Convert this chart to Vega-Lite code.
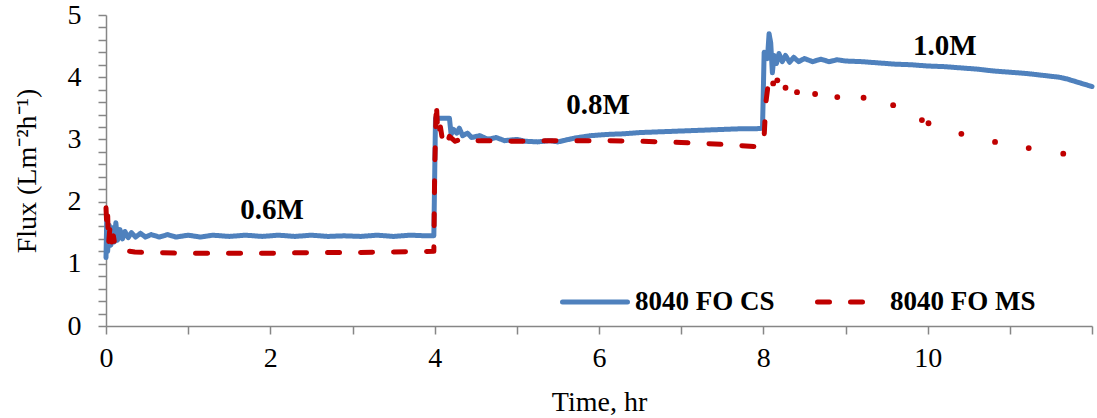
{
  "$schema": "https://vega.github.io/schema/vega-lite/v6.json",
  "width": 986,
  "height": 311,
  "autosize": {"type": "none"},
  "padding": {"left": 106, "top": 15, "right": 5, "bottom": 92},
  "background": "white",
  "config": {
    "view": {"stroke": null},
    "font": "Liberation Serif",
    "axis": {
      "domainColor": "#868686", "tickColor": "#868686", "domainWidth": 1.5, "tickWidth": 1.5, "tickSize": 8,
      "labelFont": "Liberation Serif", "titleFont": "Liberation Serif", "labelFontSize": 28, "titleFontSize": 28,
      "labelColor": "black", "titleColor": "black", "titleFontWeight": "normal", "grid": false
    },
    "legend": {
      "orient": "none", "legendX": 454, "legendY": 252, "direction": "horizontal",
      "symbolType": "stroke", "symbolSize": 4225, "symbolStrokeWidth": 5,
      "labelFont": "Liberation Serif", "labelFontSize": 27, "labelFontWeight": "bold", "labelColor": "black",
      "labelOffset": 5, "columnPadding": 32, "padding": 0
    }
  },
  "datasets": {
    "flux": [
      {"series": "8040 FO CS", "t": 0.00, "flux": 1.10},
      {"series": "8040 FO CS", "t": 0.01, "flux": 1.78},
      {"series": "8040 FO CS", "t": 0.02, "flux": 1.20},
      {"series": "8040 FO CS", "t": 0.04, "flux": 1.62},
      {"series": "8040 FO CS", "t": 0.06, "flux": 1.30},
      {"series": "8040 FO CS", "t": 0.08, "flux": 1.58},
      {"series": "8040 FO CS", "t": 0.10, "flux": 1.35},
      {"series": "8040 FO CS", "t": 0.12, "flux": 1.66},
      {"series": "8040 FO CS", "t": 0.14, "flux": 1.38},
      {"series": "8040 FO CS", "t": 0.17, "flux": 1.55},
      {"series": "8040 FO CS", "t": 0.20, "flux": 1.40},
      {"series": "8040 FO CS", "t": 0.23, "flux": 1.52},
      {"series": "8040 FO CS", "t": 0.27, "flux": 1.42},
      {"series": "8040 FO CS", "t": 0.31, "flux": 1.50},
      {"series": "8040 FO CS", "t": 0.36, "flux": 1.43},
      {"series": "8040 FO CS", "t": 0.42, "flux": 1.49},
      {"series": "8040 FO CS", "t": 0.48, "flux": 1.43},
      {"series": "8040 FO CS", "t": 0.55, "flux": 1.47},
      {"series": "8040 FO CS", "t": 0.65, "flux": 1.43},
      {"series": "8040 FO CS", "t": 0.75, "flux": 1.47},
      {"series": "8040 FO CS", "t": 0.85, "flux": 1.43},
      {"series": "8040 FO CS", "t": 1.00, "flux": 1.46},
      {"series": "8040 FO CS", "t": 1.15, "flux": 1.43},
      {"series": "8040 FO CS", "t": 1.30, "flux": 1.46},
      {"series": "8040 FO CS", "t": 1.50, "flux": 1.44},
      {"series": "8040 FO CS", "t": 1.70, "flux": 1.46},
      {"series": "8040 FO CS", "t": 1.90, "flux": 1.44},
      {"series": "8040 FO CS", "t": 2.10, "flux": 1.46},
      {"series": "8040 FO CS", "t": 2.30, "flux": 1.44},
      {"series": "8040 FO CS", "t": 2.50, "flux": 1.46},
      {"series": "8040 FO CS", "t": 2.70, "flux": 1.44},
      {"series": "8040 FO CS", "t": 2.90, "flux": 1.45},
      {"series": "8040 FO CS", "t": 3.10, "flux": 1.44},
      {"series": "8040 FO CS", "t": 3.30, "flux": 1.46},
      {"series": "8040 FO CS", "t": 3.50, "flux": 1.44},
      {"series": "8040 FO CS", "t": 3.70, "flux": 1.46},
      {"series": "8040 FO CS", "t": 3.90, "flux": 1.45},
      {"series": "8040 FO CS", "t": 3.99, "flux": 1.45},
      {"series": "8040 FO CS", "t": 4.00, "flux": 2.40},
      {"series": "8040 FO CS", "t": 4.01, "flux": 3.34},
      {"series": "8040 FO CS", "t": 4.18, "flux": 3.34},
      {"series": "8040 FO CS", "t": 4.20, "flux": 3.08},
      {"series": "8040 FO CS", "t": 4.23, "flux": 3.16},
      {"series": "8040 FO CS", "t": 4.27, "flux": 3.10},
      {"series": "8040 FO CS", "t": 4.30, "flux": 3.18},
      {"series": "8040 FO CS", "t": 4.34, "flux": 3.06},
      {"series": "8040 FO CS", "t": 4.40, "flux": 3.10},
      {"series": "8040 FO CS", "t": 4.45, "flux": 3.03},
      {"series": "8040 FO CS", "t": 4.55, "flux": 3.06},
      {"series": "8040 FO CS", "t": 4.65, "flux": 3.00},
      {"series": "8040 FO CS", "t": 4.75, "flux": 3.03},
      {"series": "8040 FO CS", "t": 4.85, "flux": 2.98},
      {"series": "8040 FO CS", "t": 5.00, "flux": 3.00},
      {"series": "8040 FO CS", "t": 5.10, "flux": 2.97},
      {"series": "8040 FO CS", "t": 5.25, "flux": 2.96},
      {"series": "8040 FO CS", "t": 5.40, "flux": 2.98},
      {"series": "8040 FO CS", "t": 5.50, "flux": 2.96},
      {"series": "8040 FO CS", "t": 5.70, "flux": 3.02},
      {"series": "8040 FO CS", "t": 5.90, "flux": 3.06},
      {"series": "8040 FO CS", "t": 6.10, "flux": 3.08},
      {"series": "8040 FO CS", "t": 6.30, "flux": 3.09},
      {"series": "8040 FO CS", "t": 6.50, "flux": 3.11},
      {"series": "8040 FO CS", "t": 6.70, "flux": 3.12},
      {"series": "8040 FO CS", "t": 6.90, "flux": 3.13},
      {"series": "8040 FO CS", "t": 7.10, "flux": 3.14},
      {"series": "8040 FO CS", "t": 7.30, "flux": 3.15},
      {"series": "8040 FO CS", "t": 7.50, "flux": 3.16},
      {"series": "8040 FO CS", "t": 7.70, "flux": 3.17},
      {"series": "8040 FO CS", "t": 7.90, "flux": 3.17},
      {"series": "8040 FO CS", "t": 7.99, "flux": 3.18},
      {"series": "8040 FO CS", "t": 8.01, "flux": 4.40},
      {"series": "8040 FO CS", "t": 8.05, "flux": 4.30},
      {"series": "8040 FO CS", "t": 8.07, "flux": 4.70},
      {"series": "8040 FO CS", "t": 8.09, "flux": 4.55},
      {"series": "8040 FO CS", "t": 8.11, "flux": 4.07},
      {"series": "8040 FO CS", "t": 8.13, "flux": 4.35},
      {"series": "8040 FO CS", "t": 8.16, "flux": 4.22},
      {"series": "8040 FO CS", "t": 8.19, "flux": 4.38},
      {"series": "8040 FO CS", "t": 8.23, "flux": 4.25},
      {"series": "8040 FO CS", "t": 8.27, "flux": 4.35},
      {"series": "8040 FO CS", "t": 8.32, "flux": 4.24},
      {"series": "8040 FO CS", "t": 8.37, "flux": 4.32},
      {"series": "8040 FO CS", "t": 8.43, "flux": 4.25},
      {"series": "8040 FO CS", "t": 8.50, "flux": 4.30},
      {"series": "8040 FO CS", "t": 8.60, "flux": 4.25},
      {"series": "8040 FO CS", "t": 8.70, "flux": 4.29},
      {"series": "8040 FO CS", "t": 8.80, "flux": 4.25},
      {"series": "8040 FO CS", "t": 8.90, "flux": 4.28},
      {"series": "8040 FO CS", "t": 9.00, "flux": 4.26},
      {"series": "8040 FO CS", "t": 9.20, "flux": 4.25},
      {"series": "8040 FO CS", "t": 9.40, "flux": 4.23},
      {"series": "8040 FO CS", "t": 9.60, "flux": 4.21},
      {"series": "8040 FO CS", "t": 9.80, "flux": 4.20},
      {"series": "8040 FO CS", "t": 10.00, "flux": 4.18},
      {"series": "8040 FO CS", "t": 10.20, "flux": 4.17},
      {"series": "8040 FO CS", "t": 10.40, "flux": 4.15},
      {"series": "8040 FO CS", "t": 10.60, "flux": 4.13},
      {"series": "8040 FO CS", "t": 10.80, "flux": 4.10},
      {"series": "8040 FO CS", "t": 11.00, "flux": 4.08},
      {"series": "8040 FO CS", "t": 11.20, "flux": 4.06},
      {"series": "8040 FO CS", "t": 11.40, "flux": 4.03},
      {"series": "8040 FO CS", "t": 11.60, "flux": 4.00},
      {"series": "8040 FO CS", "t": 11.70, "flux": 3.97},
      {"series": "8040 FO CS", "t": 11.80, "flux": 3.93},
      {"series": "8040 FO CS", "t": 11.90, "flux": 3.89},
      {"series": "8040 FO CS", "t": 12.00, "flux": 3.85},
      {"series": "8040 FO MS", "t": 0.00, "flux": 1.90},
      {"series": "8040 FO MS", "t": 0.01, "flux": 1.60},
      {"series": "8040 FO MS", "t": 0.02, "flux": 1.80},
      {"series": "8040 FO MS", "t": 0.03, "flux": 1.30},
      {"series": "8040 FO MS", "t": 0.05, "flux": 1.62},
      {"series": "8040 FO MS", "t": 0.07, "flux": 1.35},
      {"series": "8040 FO MS", "t": 0.09, "flux": 1.45},
      {"series": "8040 FO MS", "t": 0.11, "flux": 1.28},
      {"series": "8040 FO MS", "t": 0.14, "flux": 1.25},
      {"series": "8040 FO MS", "t": 0.18, "flux": 1.22},
      {"series": "8040 FO MS", "t": 0.25, "flux": 1.21},
      {"series": "8040 FO MS", "t": 0.35, "flux": 1.19},
      {"series": "8040 FO MS", "t": 0.50, "flux": 1.18},
      {"series": "8040 FO MS", "t": 1.00, "flux": 1.17},
      {"series": "8040 FO MS", "t": 1.50, "flux": 1.17},
      {"series": "8040 FO MS", "t": 2.00, "flux": 1.17},
      {"series": "8040 FO MS", "t": 2.50, "flux": 1.18},
      {"series": "8040 FO MS", "t": 3.00, "flux": 1.18},
      {"series": "8040 FO MS", "t": 3.50, "flux": 1.19},
      {"series": "8040 FO MS", "t": 3.99, "flux": 1.20},
      {"series": "8040 FO MS", "t": 4.00, "flux": 2.50},
      {"series": "8040 FO MS", "t": 4.02, "flux": 3.60},
      {"series": "8040 FO MS", "t": 4.04, "flux": 3.05},
      {"series": "8040 FO MS", "t": 4.07, "flux": 3.20},
      {"series": "8040 FO MS", "t": 4.10, "flux": 2.95},
      {"series": "8040 FO MS", "t": 4.14, "flux": 2.88},
      {"series": "8040 FO MS", "t": 4.18, "flux": 3.05},
      {"series": "8040 FO MS", "t": 4.25, "flux": 2.97},
      {"series": "8040 FO MS", "t": 4.35, "flux": 3.02},
      {"series": "8040 FO MS", "t": 4.50, "flux": 2.98},
      {"series": "8040 FO MS", "t": 5.00, "flux": 2.97},
      {"series": "8040 FO MS", "t": 5.50, "flux": 2.98},
      {"series": "8040 FO MS", "t": 6.00, "flux": 2.98},
      {"series": "8040 FO MS", "t": 6.50, "flux": 2.97},
      {"series": "8040 FO MS", "t": 7.00, "flux": 2.95},
      {"series": "8040 FO MS", "t": 7.50, "flux": 2.92},
      {"series": "8040 FO MS", "t": 7.95, "flux": 2.88},
      {"series": "8040 FO MS", "t": 7.99, "flux": 2.90},
      {"series": "8040 FO MS", "t": 8.01, "flux": 3.05},
      {"series": "8040 FO MS", "t": 8.03, "flux": 3.58},
      {"series": "8040 FO MS", "t": 8.06, "flux": 3.90},
      {"series": "8040 FO MS", "t": 8.12, "flux": 3.90},
      {"series": "8040 FO MS", "t": 8.17, "flux": 3.95},
      {"series": "8040 FO MS", "t": 8.27, "flux": 3.83},
      {"series": "8040 FO MS", "t": 8.41, "flux": 3.76},
      {"series": "8040 FO MS", "t": 8.63, "flux": 3.73},
      {"series": "8040 FO MS", "t": 8.90, "flux": 3.68},
      {"series": "8040 FO MS", "t": 9.22, "flux": 3.67},
      {"series": "8040 FO MS", "t": 9.58, "flux": 3.55},
      {"series": "8040 FO MS", "t": 9.93, "flux": 3.31},
      {"series": "8040 FO MS", "t": 10.01, "flux": 3.26},
      {"series": "8040 FO MS", "t": 10.41, "flux": 3.09},
      {"series": "8040 FO MS", "t": 10.82, "flux": 2.96},
      {"series": "8040 FO MS", "t": 11.23, "flux": 2.86},
      {"series": "8040 FO MS", "t": 11.65, "flux": 2.77}
    ],
    "notes": [
      {"t": 2.02, "flux": 1.86, "label": "0.6M"},
      {"t": 5.99, "flux": 3.55, "label": "0.8M"},
      {"t": 10.21, "flux": 4.50, "label": "1.0M"}
    ]
  },
  "encoding": {
    "x": {
      "field": "t", "type": "quantitative",
      "scale": {"domain": [0, 12], "nice": false},
      "axis": {
        "title": "Time, hr", "values": [0, 1, 2, 3, 4, 5, 6, 7, 8, 9, 10, 11, 12],
        "labelExpr": "datum.value % 2 == 0 && datum.value < 12 ? format(datum.value, 'd') : ''",
        "labelPadding": 10, "titlePadding": 16, "labelFlush": false, "labelOverlap": false
      }
    },
    "y": {
      "field": "flux", "type": "quantitative",
      "scale": {"domain": [0, 5], "nice": false},
      "axis": {
        "title": "Flux (Lm⁻²h⁻¹)",
        "values": [0, 0.2, 0.4, 0.6, 0.8, 1, 1.2, 1.4, 1.6, 1.8, 2, 2.2, 2.4, 2.6, 2.8, 3, 3.2, 3.4, 3.6, 3.8, 4, 4.2, 4.4, 4.6, 4.8, 5],
        "labelExpr": "datum.value % 1 == 0 ? format(datum.value, 'd') : ''",
        "labelPadding": 17, "titlePadding": 26, "labelOverlap": false
      }
    }
  },
  "layer": [
    {
      "data": {"name": "flux"},
      "transform": [{"filter": "datum.series == '8040 FO CS' || datum.t <= 8.07"}],
      "mark": {"type": "line", "strokeWidth": 5, "strokeCap": "round", "strokeJoin": "round"},
      "encoding": {
        "color": {
          "field": "series", "type": "nominal",
          "scale": {"domain": ["8040 FO CS", "8040 FO MS"], "range": ["#4F81BD", "#C00000"]},
          "legend": {"title": null, "encode": {"symbols": {"update": {"strokeCap": {"value": "round"}}}}}
        },
        "strokeDash": {
          "field": "series", "type": "nominal",
          "scale": {"domain": ["8040 FO CS", "8040 FO MS"], "range": [[1, 0], [12, 21]]},
          "legend": {"title": null}
        }
      }
    },
    {
      "data": {"name": "flux"},
      "transform": [{"filter": "datum.series == '8040 FO MS' && datum.t > 8.07"}],
      "mark": {"type": "point", "filled": true, "size": 34, "color": "#C00000", "opacity": 1}
    },
    {
      "data": {"name": "notes"},
      "mark": {"type": "text", "font": "Liberation Serif", "fontSize": 29, "fontWeight": "bold", "align": "center", "baseline": "middle", "color": "black"},
      "encoding": {"text": {"field": "label"}}
    }
  ]
}
